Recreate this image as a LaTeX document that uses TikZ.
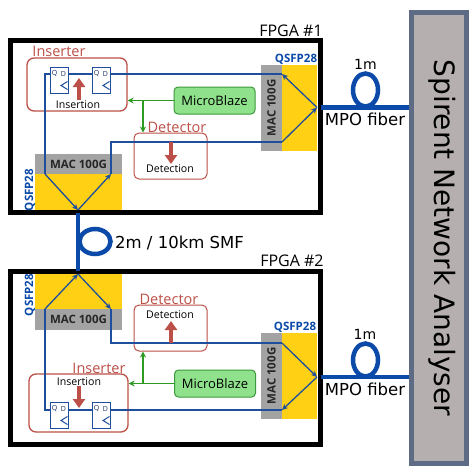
\documentclass[tikz,border=0pt]{standalone}
\usepackage{fontspec}
\setmainfont{Open Sans}
\newfontfamily\vfont{DejaVu Sans}
\usetikzlibrary{arrows.meta}
\definecolor{wireblue}{HTML}{1F4F9C}
\definecolor{fiberblue}{HTML}{0B4AA8}
\definecolor{brick}{HTML}{BC5048}
\definecolor{macgrey}{HTML}{A3A3A3}
\definecolor{qsfpyellow}{HTML}{FFD014}
\definecolor{mbfill}{HTML}{8FE28B}
\definecolor{mbline}{HTML}{3C9A3C}
\definecolor{wiregreen}{HTML}{2E9A22}
\definecolor{spfill}{HTML}{B5AFAF}
\definecolor{spline}{HTML}{5D6C84}
\tikzset{
 fpgabox/.style={draw=black,line width=5pt,minimum width=310.5pt,inner sep=0pt,fill=white},
 blockbox/.style={draw=brick,line width=1.3pt,rounded corners=7pt,inner sep=0pt},
 detbox/.style={draw=brick,line width=1pt,rounded corners=5pt,inner sep=0pt},
 macbox/.style={fill=macgrey,inner sep=0pt,font=\bfseries\fontsize{11.5}{13}\selectfont,text=black!85},
 yellowbox/.style={fill=qsfpyellow,inner sep=0pt},
 ffbox/.style={draw=wireblue,line width=1pt,fill=white,minimum width=18pt,minimum height=26pt,inner sep=0pt},
 mbbox/.style={draw=mbline,line width=1pt,fill=mbfill,rounded corners=4pt,minimum width=81pt,minimum height=27pt,inner sep=0pt,font=\fontsize{13}{15}\selectfont},
 wire/.style={draw=wireblue,line width=1.3pt},
 wirearrow/.style={wire,-{Stealth[length=6pt,width=5.5pt]}},
 gwire/.style={draw=wiregreen,line width=1.3pt},
 gwirearrow/.style={gwire,-{Stealth[length=6pt,width=6pt]}},
 fiber/.style={draw=fiberblue,line width=4.5pt},
 redarrow/.style={draw=brick,line width=3.2pt,-{Stealth[length=9pt,width=12pt,inset=0pt]}},
 blocklabel/.style={text=brick,inner sep=0pt,font=\fontsize{14.5}{16}\selectfont},
 smalltext/.style={inner sep=0pt,font=\fontsize{10.6}{12}\selectfont},
 qsfplabel/.style={text=fiberblue,inner sep=0pt,font=\bfseries\fontsize{11.5}{13}\selectfont},
 fibertext/.style={inner sep=0pt,font=\vfont\fontsize{16.5}{18}\selectfont},
 shorttext/.style={inner sep=0pt,font=\vfont\fontsize{14}{16}\selectfont},
 ffpin/.style={inner sep=0pt,font=\fontsize{7}{8}\selectfont,text=wireblue!60!black},
 clk/.style={draw=wireblue,line width=1pt},
}
\begin{document}
\begin{tikzpicture}[x=1pt,y=-1pt]
\useasboundingbox (0,0) rectangle (469,467);
% FPGA frames
\node[fpgabox,minimum height=172pt] (fpgaA) at (165.25,126.5) {};
\node[fpgabox,minimum height=172.5pt] (fpgaB) at (165.25,357.75) {};
\node[inner sep=0pt,font=\fontsize{16}{18}\selectfont] (fpgaAl) at (291,31) {FPGA \#1};
\node[inner sep=0pt,font=\fontsize{16}{18}\selectfont] (fpgaBl) at (292,261) {FPGA \#2};
% Analyser
\node[draw=spline,line width=5pt,fill=spfill,minimum width=55pt,minimum height=451pt,inner sep=0pt] (sna) at (439,238) {};
\node[rotate=-90,inner sep=0pt,font=\vfont\fontsize{28}{30}\selectfont] (snal) at (442,238) {Spirent Network Analyser};
% Ports FPGA 1
\node[yellowbox,minimum width=87pt,minimum height=36pt] (yA) at (78.5,192) {};
\node[macbox,minimum width=87pt,minimum height=20pt] (mA) at (78.5,164) {MAC 100G};
\node[yellowbox,minimum width=35pt,minimum height=86pt] (yB) at (299.5,108) {};
\node[macbox,minimum width=21pt,minimum height=86pt,rotate=0] (mB) at (271.5,108) {};
\node[rotate=90,inner sep=0pt,font=\bfseries\fontsize{11.5}{13}\selectfont,text=black!85] (mBl) at (271.5,108) {MAC 100G};
\node[qsfplabel] (qA) at (296,59) {QSFP28};
\node[qsfplabel,rotate=90] (qB) at (30,190) {QSFP28};
% Ports FPGA 2
\node[yellowbox,minimum width=87pt,minimum height=35pt] (yC) at (78.5,291.5) {};
\node[macbox,minimum width=87pt,minimum height=21pt] (mC) at (78.5,319.5) {MAC 100G};
\node[yellowbox,minimum width=35pt,minimum height=86pt] (yD) at (299.5,376) {};
\node[macbox,minimum width=21pt,minimum height=86pt] (mD) at (271.5,376) {};
\node[rotate=90,inner sep=0pt,font=\bfseries\fontsize{11.5}{13}\selectfont,text=black!85] (mDl) at (271.5,376) {MAC 100G};
\node[qsfplabel] (qC) at (295,327) {QSFP28};
\node[qsfplabel,rotate=90] (qD) at (30,295) {QSFP28};
% Blocks FPGA 1
\node[blockbox,minimum width=100pt,minimum height=53pt] (insA) at (77,84.5) {};
\node[detbox,minimum width=73pt,minimum height=46pt] (detA) at (170.5,156) {};
\node[blocklabel] (insAl) at (59,51) {Inserter};
\node[blocklabel] (detAl) at (177,127) {Detector};
\node[mbbox] (mbA) at (214.5,100.5) {MicroBlaze};
% Blocks FPGA 2
\node[blockbox,minimum width=99pt,minimum height=58pt] (insB) at (78.5,403) {};
\node[detbox,minimum width=73pt,minimum height=46pt] (detB) at (170.5,328) {};
\node[blocklabel] (insBl) at (99,368) {Inserter};
\node[blocklabel] (detBl) at (169,299) {Detector};
\node[mbbox] (mbB) at (215,383.5) {MicroBlaze};
% Junction points
\coordinate (apexA) at (78,210);
\coordinate (apexB) at (78,274);
\coordinate (portA) at (317,107.5);
\coordinate (portB) at (317,377);
\coordinate (a1) at (45,74); \coordinate (a2) at (45,174);
\coordinate (a3) at (111,174); \coordinate (a4) at (111,142);
\coordinate (a5) at (282,142); \coordinate (a6) at (282,74);
\coordinate (b1) at (45,410); \coordinate (b2) at (45,309);
\coordinate (b3) at (111,309); \coordinate (b4) at (111,343);
\coordinate (b5) at (282,343); \coordinate (b6) at (282,410);
\coordinate (ga) at (143,100.5); \coordinate (gb) at (143,383.5);
% Blue wires
\draw[wire] (50,74) -- (a1) -- (a2);
\draw[wirearrow] (a2) -- (apexA);
\draw[wirearrow] (apexA) -- (a3);
\draw[wire] (a3) -- (a4) -- (a5);
\draw[wirearrow] (a5) -- (portA);
\draw[wirearrow] (portA) -- (a6);
\draw[wire] (a6) -- (110,74);
\draw[wire] (68,74) -- (92,74);
\draw[wire] (50,410) -- (b1) -- (b2);
\draw[wirearrow] (b2) -- (apexB);
\draw[wirearrow] (apexB) -- (b3);
\draw[wire] (b3) -- (b4) -- (b5);
\draw[wirearrow] (b5) -- (portB);
\draw[wirearrow] (portB) -- (b6);
\draw[wire] (b6) -- (110,410);
\draw[wire] (68,410) -- (92,410);
% Flip-flops
\node[ffbox] (ffA1) at (59,80) {};
\node[ffbox] (ffA2) at (101,80) {};
\node[ffbox] (ffB1) at (59,415) {};
\node[ffbox] (ffB2) at (101,415) {};
\foreach \f in {ffA1,ffA2,ffB1,ffB2}{
 \node[ffpin] at ([xshift=-4.5pt,yshift=6pt]\f.center) {Q};
 \node[ffpin] at ([xshift=4.5pt,yshift=6pt]\f.center) {D};
 \draw[clk] ([xshift=-1pt,yshift=4pt]\f.south east) -- ([xshift=-7.5pt,yshift=8pt]\f.south east) -- ([xshift=-1pt,yshift=12pt]\f.south east);
}
% Green wires
\draw[gwirearrow] (mbA.west) -- (insA.east |- mbA.west);
\draw[gwirearrow] (ga) -- (ga |- detA.north);
\draw[gwirearrow] (mbB.west) -- (insB.east |- mbB.west);
\draw[gwirearrow] (gb) -- (gb |- detB.south);
% Red arrows and their labels
\coordinate (ia1) at (79,100); \coordinate (ia2) at (79,78);
\coordinate (da1) at (171,142); \coordinate (da2) at (171,164);
\coordinate (ib1) at (79,386); \coordinate (ib2) at (79,408);
\coordinate (db1) at (171,343); \coordinate (db2) at (171,321);
\draw[redarrow] (ia1) -- (ia2);
\draw[redarrow] (da1) -- (da2);
\draw[redarrow] (ib1) -- (ib2);
\draw[redarrow] (db1) -- (db2);
\node[smalltext] (insAt) at (78,105) {Insertion};
\node[smalltext] (detAt) at (170,169) {Detection};
\node[smalltext] (insBt) at (79,382) {Insertion};
\node[smalltext] (detBt) at (170,315) {Detection};
% Fibers
\coordinate (fa) at (321,107.5); \coordinate (fb) at (321,377);
\coordinate (fm1) at (78,213); \coordinate (fm2) at (78,271);
\draw[fiber] (fa) -- (sna.west |- fa);
\draw[fiber] (fb) -- (sna.west |- fb);
\draw[fiber] (fm1) -- (fm2);
\draw[fiber] (365.5,90) ellipse [x radius=12.5,y radius=16.5];
\draw[fiber] (365.5,360) ellipse [x radius=12.5,y radius=16.5];
\draw[fiber] (95,241.5) ellipse [x radius=15.5,y radius=12.5];
\node[shorttext] (l1) at (365.5,64) {1m};
\node[fibertext] (m1) at (365,119) {MPO fiber};
\node[shorttext] (l2) at (365,334) {1m};
\node[fibertext] (m2) at (365,389) {MPO fiber};
\node[fibertext,anchor=west] (l3) at (115,243) {2m / 10km SMF};
\end{tikzpicture}
\end{document}
